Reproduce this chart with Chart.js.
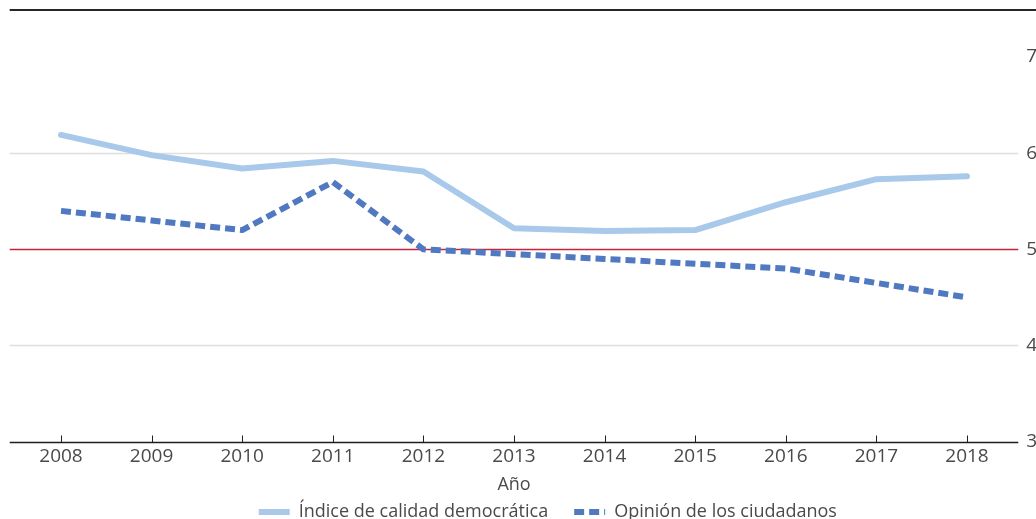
<!DOCTYPE html>
<html lang="es">
<head>
<meta charset="utf-8">
<script src="https://cdn.jsdelivr.net/npm/chart.js@4/dist/chart.umd.min.js"></script>
<style>
  html, body { margin: 0; padding: 0; background: #ffffff; overflow: hidden; }
  #wrap { width: 1036px; height: 519px; overflow: hidden; position: relative; }
  canvas { display: block; }
</style>
</head>
<body>
<div id="wrap"><canvas id="chart" width="1036" height="531"></canvas></div>
<script>
// Años del eje horizontal
const years = ['2008', '2009', '2010', '2011', '2012', '2013', '2014', '2015', '2016', '2017', '2018'];
// Índice de calidad democrática
const indiceCalidad = [6.19, 5.98, 5.84, 5.92, 5.81, 5.22, 5.19, 5.20, 5.49, 5.73, 5.76];
// Opinión de los ciudadanos
const opinionCiudadanos = [5.40, 5.30, 5.20, 5.70, 5.00, 4.95, 4.90, 4.85, 4.80, 4.65, 4.50];
// Marcas del eje vertical
const yTicks = [3, 4, 5, 6, 7];
const yMin = 3;
const yMax = 7.5;
// Valores con línea de referencia
const gridValues = [4, 6];
const umbral = 5;

const FONT = '"Open Sans", "Liberation Sans", sans-serif';
const TEXT = '#4a4a4a';

// Líneas de fondo, eje y marcas, dibujadas con las escalas del gráfico
const framePlugin = {
  id: 'frame',
  afterLayout(chart) {
    // desplaza la leyenda hacia la derecha
    const lg = chart.legend;
    if (lg) { lg.left += 22; lg.right += 22; }
  },
  beforeDatasetsDraw(chart) {
    const { ctx, chartArea, scales } = chart;
    const x = scales.x, y = scales.y;
    const left = chartArea.left - 6, right = chartArea.right + 6;
    ctx.save();
    ctx.lineCap = 'butt';
    // líneas de cuadrícula
    ctx.strokeStyle = '#dedede';
    ctx.lineWidth = 1.5;
    gridValues.forEach(v => {
      const py = Math.round(y.getPixelForValue(v)) + 0.5;
      ctx.beginPath(); ctx.moveTo(left, py); ctx.lineTo(right, py); ctx.stroke();
    });
    // umbral
    ctx.strokeStyle = '#c3243f';
    ctx.lineWidth = 1.5;
    const pu = Math.round(y.getPixelForValue(umbral)) + 0.5;
    ctx.beginPath(); ctx.moveTo(left, pu); ctx.lineTo(right, pu); ctx.stroke();
    // eje inferior
    ctx.strokeStyle = '#1e1e1e';
    ctx.lineWidth = 1.5;
    const pb = Math.round(y.getPixelForValue(yMin)) + 0.5;
    ctx.beginPath(); ctx.moveTo(left, pb); ctx.lineTo(right, pb); ctx.stroke();
    // marcas del eje inferior
    ctx.lineWidth = 1;
    years.forEach((_, i) => {
      const px = Math.round(x.getPixelForValue(i)) + 0.5;
      ctx.beginPath(); ctx.moveTo(px, pb - 7); ctx.lineTo(px, pb); ctx.stroke();
    });
    // borde superior
    ctx.strokeStyle = '#262626';
    ctx.lineWidth = 2;
    const pt = Math.round(y.getPixelForValue(yMax)) + 1;
    ctx.beginPath(); ctx.moveTo(left, pt); ctx.lineTo(chart.width, pt); ctx.stroke();
    ctx.restore();
  }
};

new Chart(document.getElementById('chart'), {
  type: 'line',
  data: {
    labels: years,
    datasets: [
      {
        label: 'Índice de calidad democrática',
        data: indiceCalidad,
        borderColor: '#a9c9ea',
        backgroundColor: '#a9c9ea',
        borderWidth: 6,
        borderCapStyle: 'round',
        borderJoinStyle: 'round',
        pointRadius: 0,
        tension: 0
      },
      {
        label: 'Opinión de los ciudadanos',
        data: opinionCiudadanos,
        borderColor: '#5079c1',
        backgroundColor: '#5079c1',
        borderWidth: 6,
        borderDash: [10, 5],
        borderCapStyle: 'butt',
        borderJoinStyle: 'round',
        pointRadius: 0,
        tension: 0
      }
    ]
  },
  options: {
    responsive: false,
    animation: false,
    layout: { padding: { left: 15.7, right: 0, top: 9, bottom: 0 } },
    scales: {
      x: {
        type: 'category',
        offset: true,
        border: { display: false },
        grid: { display: false, drawTicks: false },
        ticks: {
          color: TEXT,
          font: { family: FONT, size: 19 },
          padding: 4,
          maxRotation: 0,
          autoSkip: false
        },
        title: {
          display: true,
          text: 'Año',
          color: TEXT,
          font: { family: FONT, size: 18 },
          padding: { top: 2, bottom: -19 }
        }
      },
      y: {
        position: 'right',
        min: yMin,
        max: yMax,
        border: { display: false },
        grid: { display: false, drawTicks: false },
        afterBuildTicks(scale) {
          scale.ticks = yTicks.map(v => ({ value: v }));
        },
        afterFit(scale) {
          scale.width = 23.7;
          scale.paddingTop = 0;
          scale.paddingBottom = 0;
        },
        ticks: {
          color: TEXT,
          font: { family: FONT, size: 19 },
          padding: 14
        }
      }
    },
    plugins: {
      tooltip: { enabled: false },
      legend: {
        position: 'bottom',
        labels: {
          color: TEXT,
          font: { family: FONT, size: 18 },
          usePointStyle: true,
          pointStyle: 'line',
          pointStyleWidth: 31,
          padding: 26,
          // muestra de línea con el mismo trazo que cada serie
          generateLabels(chart) {
            const items = Chart.defaults.plugins.legend.labels.generateLabels(chart);
            items.forEach(it => {
              const ds = chart.data.datasets[it.datasetIndex];
              it.strokeStyle = ds.borderColor;
              it.fillStyle = ds.borderColor;
              it.lineWidth = ds.borderWidth;
              it.lineDash = ds.borderDash || [];
              it.lineCap = 'butt';
            });
            return items;
          }
        }
      }
    }
  },
  plugins: [framePlugin]
});
</script>
</body>
</html>
